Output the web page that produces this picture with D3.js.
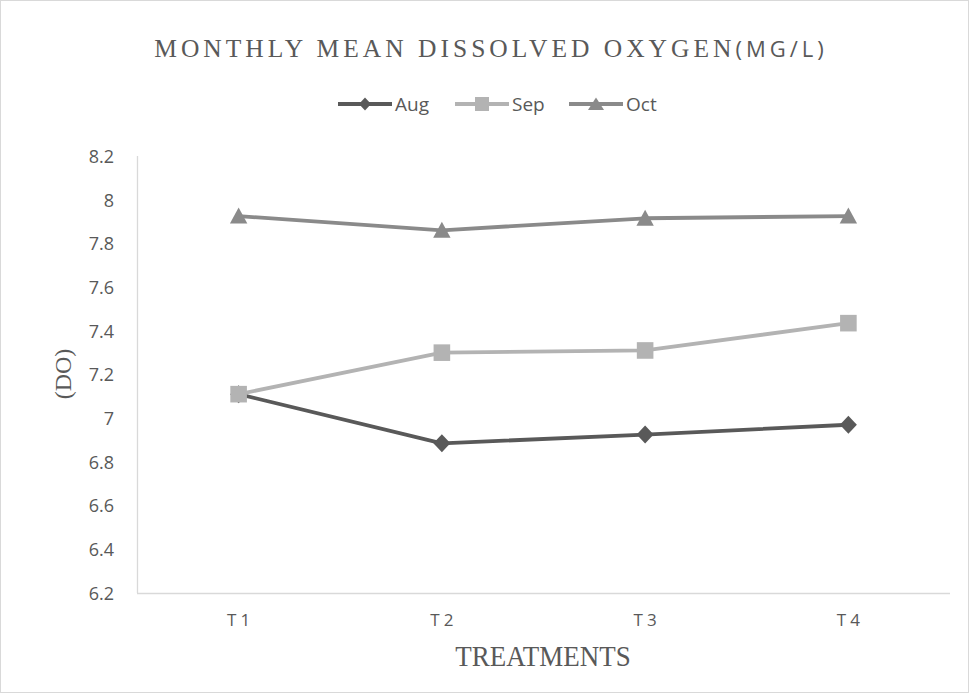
<!DOCTYPE html>
<html><head><meta charset="utf-8">
<script src="https://cdn.jsdelivr.net/npm/d3@7"></script>
<style>body{margin:0;background:#fff}</style>
</head><body>
<svg id="c" width="969" height="693"></svg>
<script>
const categories = ["T1","T2","T3","T4"];
const aug = [7.11, 6.885, 6.925, 6.97];
const sep = [7.11, 7.30, 7.31, 7.435];
const oct = [7.925, 7.86, 7.915, 7.925];
const yTicks = [6.2,6.4,6.6,6.8,7,7.2,7.4,7.6,7.8,8,8.2];
const seriesNames = ["Aug","Sep","Oct"];

const svg = d3.select("#c");
svg.append("rect").attr("x",0.5).attr("y",0.5).attr("width",968).attr("height",692)
  .attr("fill","#fff").attr("stroke","#d9d9d9");

const x = d3.scaleBand().domain(categories).range([137,950]);
const y = d3.scaleLinear().domain([6.2,8.2]).range([593,156]);

svg.append("line").attr("x1",137.5).attr("x2",137.5).attr("y1",y(8.2)).attr("y2",y(6.2)).attr("stroke","#d9d9d9").attr("stroke-width",1.3);
svg.append("line").attr("x1",137).attr("x2",950).attr("y1",593.5).attr("y2",593.5).attr("stroke","#d9d9d9").attr("stroke-width",1.3);

const yAxis = d3.axisLeft(y).tickValues(yTicks).tickSize(0).tickPadding(0).tickFormat(d3.format(""));
const yg = svg.append("g").attr("transform","translate(114,0)").call(yAxis);
yg.select(".domain").remove();
yg.selectAll("text").attr("font-family","'Open Sans', sans-serif").attr("font-size",18).attr("fill","#595959").attr("dy","0.35em");

const xAxis = d3.axisBottom(x).tickSize(0).tickPadding(0);
const xg = svg.append("g").attr("transform","translate(2,626)").call(xAxis);
xg.select(".domain").remove();
xg.selectAll("text").attr("font-family","'Open Sans', sans-serif").attr("font-size",17).attr("fill","#595959").attr("letter-spacing","4px").attr("dy","0");

const colors = {Aug:"#595959", Sep:"#b3b3b3", Oct:"#8a8a8a"};
const data = {Aug:aug, Sep:sep, Oct:oct};
const shapePath = {
  Aug: "M0,-9L8.5,0L0,9L-8.5,0Z",
  Sep: "M-8.3,-8.3H8.3V8.3H-8.3Z",
  Oct: "M0,-8.5L8.7,7.5L-8.7,7.5Z"
};
const legendShape = {
  Aug: "M0,-6.5L6,0L0,6.5L-6,0Z",
  Sep: "M-7,-7H7V7H-7Z",
  Oct: "M0,-6.5L8,6L-8,6Z"
};
const line = d3.line().x((d,i)=>x(categories[i])+x.bandwidth()/2).y(d=>y(d));

seriesNames.forEach(s=>{
  svg.append("path").datum(data[s]).attr("d",line).attr("fill","none").attr("stroke",colors[s]).attr("stroke-width",3.8).attr("stroke-linejoin","round");
  svg.selectAll(null).data(data[s]).enter().append("path")
    .attr("d",shapePath[s])
    .attr("transform",(d,i)=>`translate(${x(categories[i])+x.bandwidth()/2},${y(d)})`)
    .attr("fill",colors[s]);
});

// title
const t = svg.append("text").attr("x",491).attr("y",57).attr("text-anchor","middle")
  .attr("fill","#595959").attr("font-size",25.5).attr("letter-spacing","4px");
t.append("tspan").attr("font-family","'Liberation Serif', serif").text("MONTHLY MEAN DISSOLVED OXYGEN");
t.append("tspan").attr("font-family","'Open Sans', sans-serif").attr("font-size",22).attr("letter-spacing","4px").text("(MG/L)");

// legend
const legend = [{n:"Aug",x:338},{n:"Sep",x:455},{n:"Oct",x:569}];
legend.forEach(l=>{
  svg.append("line").attr("x1",l.x).attr("x2",l.x+54).attr("y1",104).attr("y2",104).attr("stroke",colors[l.n]).attr("stroke-width",3.8);
  svg.append("path").attr("d",legendShape[l.n])
    .attr("transform",`translate(${l.x+27},104)`)
    .attr("fill",colors[l.n]);
  svg.append("text").attr("x",l.x+57).attr("y",104).attr("dy","0.36em").attr("font-family","'Open Sans', sans-serif")
    .attr("font-size",19).attr("fill","#595959").text(l.n);
});

// axis titles
svg.append("text").attr("transform","translate(71,374) rotate(-90)").attr("text-anchor","middle")
  .attr("font-family","'Liberation Serif', serif").attr("font-size",24).attr("fill","#595959").text("(DO)");
svg.append("text").attr("transform","translate(543,666) scale(1,1.12)").attr("text-anchor","middle")
  .attr("font-family","'Liberation Serif', serif").attr("font-size",27).attr("fill","#595959").text("TREATMENTS");
</script>
</body></html>
